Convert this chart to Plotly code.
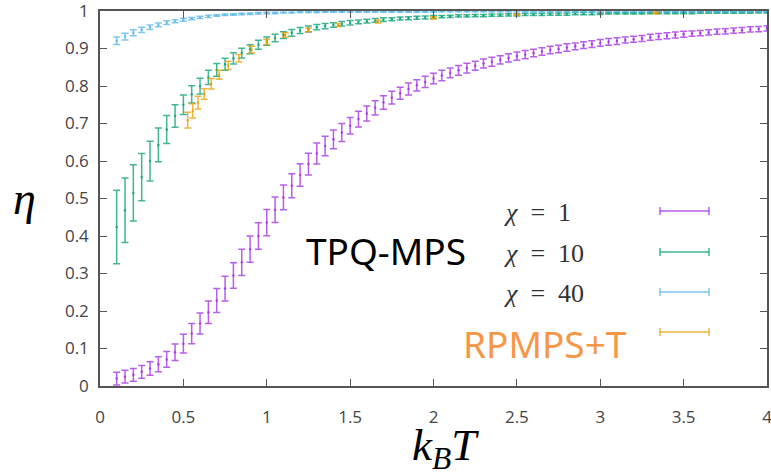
import plotly.graph_objects as go

# ---------------- data ----------------
T = [0.10, 0.15, 0.20, 0.25, 0.30, 0.35, 0.40, 0.45, 0.50, 0.55,
     0.60, 0.65, 0.70, 0.75, 0.80, 0.85, 0.90, 0.95, 1.00, 1.05,
     1.10, 1.15, 1.20, 1.25, 1.30, 1.35, 1.40, 1.45, 1.50, 1.55,
     1.60, 1.65, 1.70, 1.75, 1.80, 1.85, 1.90, 1.95, 2.00, 2.05,
     2.10, 2.15, 2.20, 2.25, 2.30, 2.35, 2.40, 2.45, 2.50, 2.55,
     2.60, 2.65, 2.70, 2.75, 2.80, 2.85, 2.90, 2.95, 3.00, 3.05,
     3.10, 3.15, 3.20, 3.25, 3.30, 3.35, 3.40, 3.45, 3.50, 3.55,
     3.60, 3.65, 3.70, 3.75, 3.80, 3.85, 3.90, 3.95, 4.00]

eta_chi1 = [0.020, 0.025, 0.030, 0.038, 0.047, 0.058, 0.071, 0.090, 0.113, 0.140,
            0.167, 0.197, 0.228, 0.260, 0.295, 0.330, 0.365, 0.400, 0.436, 0.470,
            0.503, 0.534, 0.563, 0.592, 0.620, 0.640, 0.658, 0.676, 0.694, 0.712,
            0.727, 0.742, 0.756, 0.769, 0.781, 0.792, 0.802, 0.811, 0.820, 0.828,
            0.835, 0.842, 0.848, 0.854, 0.860, 0.865, 0.870, 0.875, 0.880, 0.884,
            0.888, 0.892, 0.896, 0.899, 0.903, 0.906, 0.909, 0.912, 0.915, 0.918,
            0.920, 0.923, 0.925, 0.927, 0.930, 0.932, 0.934, 0.936, 0.938, 0.940,
            0.941, 0.943, 0.945, 0.946, 0.948, 0.949, 0.951, 0.952, 0.954]
err_chi1 = [0.017, 0.017, 0.017, 0.017, 0.018, 0.020, 0.021, 0.022, 0.025, 0.027,
            0.028, 0.030, 0.032, 0.033, 0.034, 0.035, 0.035, 0.035, 0.035, 0.034,
            0.033, 0.032, 0.030, 0.029, 0.028, 0.026, 0.025, 0.024, 0.022, 0.021,
            0.020, 0.019, 0.018, 0.017, 0.016, 0.016, 0.015, 0.015, 0.014, 0.014,
            0.013, 0.013, 0.013, 0.012, 0.012, 0.012, 0.011, 0.011, 0.011, 0.011,
            0.010, 0.010, 0.010, 0.010, 0.010, 0.009, 0.009, 0.009, 0.009, 0.009,
            0.009, 0.008, 0.008, 0.008, 0.008, 0.008, 0.008, 0.008, 0.008, 0.007,
            0.007, 0.007, 0.007, 0.007, 0.007, 0.007, 0.007, 0.007, 0.007]

eta_chi10 = [0.424, 0.469, 0.515, 0.557, 0.600, 0.643, 0.684, 0.720, 0.750, 0.778,
             0.800, 0.823, 0.843, 0.858, 0.874, 0.888, 0.898, 0.910, 0.920, 0.928,
             0.936, 0.942, 0.948, 0.952, 0.957, 0.960, 0.963, 0.966, 0.969, 0.971,
             0.973, 0.975, 0.977, 0.978, 0.980, 0.981, 0.982, 0.983, 0.984, 0.985,
             0.986, 0.987, 0.987, 0.988, 0.988, 0.989, 0.989, 0.990, 0.990, 0.991,
             0.991, 0.991, 0.992, 0.992, 0.992, 0.993, 0.993, 0.993, 0.993, 0.994,
             0.994, 0.994, 0.994, 0.994, 0.995, 0.995, 0.995, 0.995, 0.995, 0.995,
             0.996, 0.996, 0.996, 0.996, 0.996, 0.996, 0.996, 0.997, 0.997]
err_chi10 = [0.098, 0.086, 0.075, 0.063, 0.053, 0.045, 0.037, 0.030, 0.026, 0.023,
             0.021, 0.019, 0.017, 0.016, 0.015, 0.013, 0.012, 0.012, 0.011, 0.010,
             0.009, 0.009, 0.008, 0.008, 0.007, 0.007, 0.006, 0.006, 0.006, 0.005,
             0.005, 0.005, 0.005, 0.004, 0.004, 0.004, 0.004, 0.004, 0.004, 0.003,
             0.003, 0.003, 0.003, 0.003, 0.003, 0.003, 0.003, 0.003, 0.003, 0.003,
             0.003, 0.003, 0.003, 0.003, 0.003, 0.003, 0.003, 0.003, 0.002, 0.002,
             0.002, 0.002, 0.002, 0.002, 0.002, 0.002, 0.002, 0.002, 0.002, 0.002,
             0.002, 0.002, 0.002, 0.002, 0.002, 0.002, 0.002, 0.002, 0.002]

eta_chi40 = [0.921, 0.932, 0.942, 0.950, 0.957, 0.963, 0.969, 0.973, 0.977, 0.980,
             0.983, 0.986, 0.988, 0.990, 0.991, 0.992, 0.993, 0.994, 0.995, 0.995,
             0.996, 0.996, 0.997, 0.997, 0.997, 0.998, 0.998, 0.998, 0.998, 0.998,
             0.998, 0.998, 0.998, 0.998, 0.998, 0.998, 0.998, 0.998, 0.998, 0.999,
             0.999, 0.999, 0.999, 0.999, 0.999, 0.999, 0.999, 0.999, 0.999, 0.999,
             0.999, 0.999, 0.999, 0.999, 0.999, 0.999, 0.999, 0.999, 0.999, 0.999,
             0.999, 0.999, 0.999, 0.999, 0.999, 0.999, 0.999, 0.999, 0.999, 0.999,
             0.999, 0.999, 0.999, 0.999, 0.999, 0.999, 0.999, 0.999, 0.999]
err_chi40 = [0.010, 0.009, 0.008, 0.007, 0.006, 0.005, 0.005, 0.004, 0.004, 0.003,
             0.003, 0.003, 0.002, 0.002, 0.002, 0.002, 0.002, 0.002, 0.002, 0.002,
             0.001, 0.001, 0.001, 0.001, 0.001, 0.001, 0.001, 0.001, 0.001, 0.001,
             0.001, 0.001, 0.001, 0.001, 0.001, 0.001, 0.001, 0.001, 0.001, 0.001,
             0.001, 0.001, 0.001, 0.001, 0.001, 0.001, 0.001, 0.001, 0.001, 0.001,
             0.001, 0.001, 0.001, 0.001, 0.001, 0.001, 0.001, 0.001, 0.001, 0.001,
             0.001, 0.001, 0.001, 0.001, 0.001, 0.001, 0.001, 0.001, 0.001, 0.001,
             0.001, 0.001, 0.001, 0.001, 0.001, 0.001, 0.001, 0.001, 0.001]

T_rpmps = [0.526, 0.556, 0.588, 0.625, 0.667, 0.714, 0.769, 0.833, 0.909, 1.000,
           1.111, 1.250, 1.429, 1.667, 2.000, 2.500, 3.333]
eta_rpmps = [0.709, 0.734, 0.756, 0.779, 0.806, 0.830, 0.855, 0.874, 0.897, 0.918,
             0.936, 0.950, 0.963, 0.972, 0.982, 0.990, 0.995]
err_rpmps = [0.021, 0.019, 0.017, 0.014, 0.014, 0.012, 0.011, 0.010, 0.009, 0.007,
             0.006, 0.005, 0.004, 0.004, 0.003, 0.002, 0.002]

series_names = ["χ = 1", "χ = 10", "χ = 40", "RPMPS+T"]
colors = ["rgba(160,40,230,0.75)", "rgba(0,158,115,0.75)",
          "rgba(86,180,233,0.75)", "rgba(230,159,0,0.75)"]

x_ticks = [0, 0.5, 1, 1.5, 2, 2.5, 3, 3.5, 4]
x_ticklabels = ["0", "0.5", "1", "1.5", "2", "2.5", "3", "3.5", "4"]
y_ticks = [0, 0.1, 0.2, 0.3, 0.4, 0.5, 0.6, 0.7, 0.8, 0.9, 1]
y_ticklabels = ["0", "0.1", "0.2", "0.3", "0.4", "0.5", "0.6", "0.7", "0.8", "0.9", "1"]

# ---------------- figure ----------------
W, H = 771, 475
ML, MR, MT, MB = 100, 4, 11, 89
PW, PH = W - ML - MR, H - MT - MB

def px2paper(px, py):
    return (px - ML) / PW, (H - MB - py) / PH

fig = go.Figure()
all_series = [(T, eta_chi1, err_chi1), (T, eta_chi10, err_chi10),
              (T, eta_chi40, err_chi40), (T_rpmps, eta_rpmps, err_rpmps)]
for (xs, ys, es), name, col in zip(all_series, series_names, colors):
    fig.add_trace(go.Scatter(
        x=xs, y=ys, mode="markers", name=name,
        marker=dict(size=2.5, color=col),
        error_y=dict(type="data", array=es, visible=True,
                     color=col, thickness=1.5, width=3.5),
        showlegend=False, cliponaxis=True))

# custom gnuplot-style key
legend_y = [211, 252, 292, 332]
shapes = []
for ly, col in zip(legend_y, colors):
    x0, y0 = px2paper(660, ly)
    x1, _ = px2paper(709, ly)
    _, yt = px2paper(660, ly - 4)
    _, yb = px2paper(660, ly + 4)
    shapes.append(dict(type="line", xref="paper", yref="paper", x0=x0, x1=x1, y0=y0, y1=y0,
                       line=dict(color=col, width=1.5)))
    for xx in (x0, x1):
        shapes.append(dict(type="line", xref="paper", yref="paper", x0=xx, x1=xx, y0=yb, y1=yt,
                           line=dict(color=col, width=1.5)))

annotations = []
for ly, name in zip(legend_y[:3], series_names[:3]):
    ax, ay = px2paper(501, ly + 1)
    label = "<i>χ</i>  =  " + name.split("= ")[1]
    annotations.append(dict(x=ax, y=ay, xref="paper", yref="paper", text=label,
                            showarrow=False, xanchor="left", yanchor="middle",
                            font=dict(family="Liberation Serif", size=26, color="#333")))

tx, ty = px2paper(386, 250)
annotations.append(dict(x=tx, y=ty, xref="paper", yref="paper", text="TPQ-MPS",
                        showarrow=False, xanchor="center", yanchor="middle",
                        font=dict(family="Noto Sans", size=37, color="black")))
rx, ry = px2paper(545, 343)
annotations.append(dict(x=rx, y=ry, xref="paper", yref="paper", text=series_names[3],
                        showarrow=False, xanchor="center", yanchor="middle",
                        font=dict(family="Noto Sans", size=37, color="#f79646")))

# axis titles
ex, ey = px2paper(24, 198)
annotations.append(dict(x=ex, y=ey, xref="paper", yref="paper", text="<i>η</i>",
                        showarrow=False, xanchor="center", yanchor="middle",
                        font=dict(family="Liberation Serif", size=46, color="black")))
kx, ky = px2paper(445, 448)
annotations.append(dict(x=kx, y=ky, xref="paper", yref="paper",
                        text="<i>k</i><sub><i>B</i></sub><i>T</i>",
                        showarrow=False, xanchor="center", yanchor="middle",
                        font=dict(family="Liberation Serif", size=45, color="black")))

axis_common = dict(showline=True, linecolor="#555", linewidth=1.5, mirror="ticks",
                   ticks="inside", ticklen=7, tickcolor="#555", tickwidth=1.2,
                   showgrid=False, zeroline=False, automargin=False,
                   ticklabeloverflow="allow",
                   tickfont=dict(family="Open Sans", size=17, color="#444"))

fig.update_layout(
    width=W, height=H,
    margin=dict(l=ML, r=MR, t=MT, b=MB, autoexpand=False),
    paper_bgcolor="white", plot_bgcolor="white",
    xaxis=dict(range=[0, 4], tickvals=x_ticks, ticktext=x_ticklabels,
               ticklabelstandoff=15, **axis_common),
    yaxis=dict(range=[0, 1], tickvals=y_ticks, ticktext=y_ticklabels,
               ticklabelstandoff=6, **axis_common),
    shapes=shapes, annotations=annotations,
)

fig.write_html("out.html",
               config={"displayModeBar": False},
               post_script="document.body.style.margin='0';document.body.style.overflow='hidden';")
